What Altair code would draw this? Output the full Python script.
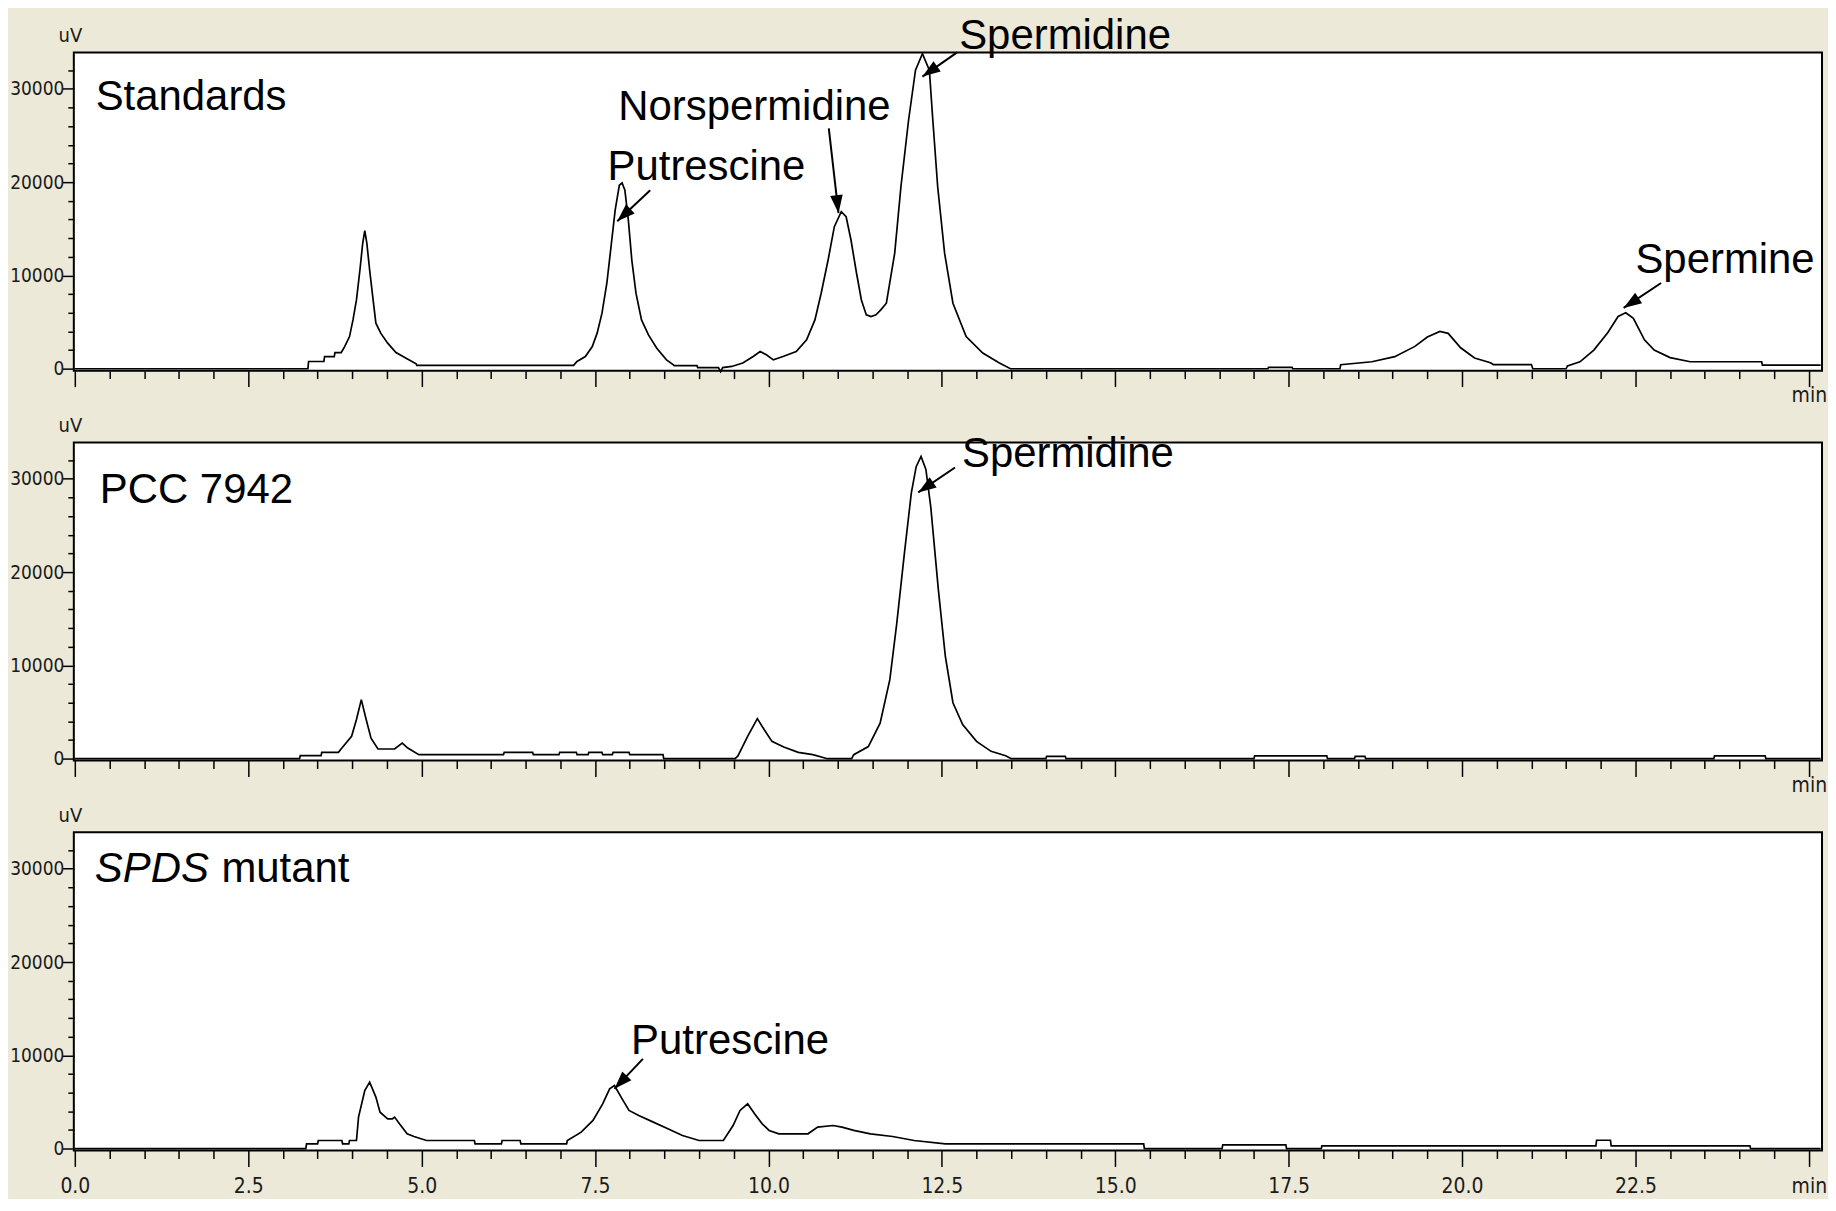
import math
import altair as alt
import pandas as pd

# ---------------- chromatogram traces (retention time [min], response [uV]) ----------------
std_time = [0.00, 3.36, 3.37, 3.59, 3.60, 3.74, 3.75, 3.84, 3.89, 3.96, 4.01, 4.06, 4.11, 4.15, 4.18,
            4.21, 4.25, 4.30, 4.34, 4.41, 4.51, 4.63, 4.77, 4.92, 4.93, 7.19, 7.24, 7.36, 7.46, 7.53,
            7.60, 7.67, 7.73, 7.79, 7.85, 7.89, 7.93, 7.98, 8.03, 8.09, 8.17, 8.27, 8.39, 8.53, 8.63,
            8.64, 8.97, 8.98, 9.28, 9.31, 9.34, 9.47, 9.63, 9.78, 9.88, 9.97, 10.07, 10.21, 10.40,
            10.55, 10.67, 10.76, 10.86, 10.95, 11.05, 11.12, 11.19, 11.27, 11.34, 11.41, 11.48, 11.55,
            11.62, 11.70, 11.82, 11.91, 12.02, 12.12, 12.22, 12.32, 12.37, 12.44, 12.54, 12.66, 12.85,
            13.09, 13.33, 13.49, 17.20, 17.21, 17.55, 17.56, 18.24, 18.25, 18.70, 19.03, 19.32, 19.50,
            19.68, 19.80, 19.98, 20.18, 20.41, 20.45, 21.00, 21.02, 21.50, 21.52, 21.70, 21.90, 22.10,
            22.25, 22.36, 22.47, 22.63, 22.77, 23.00, 23.29, 24.32, 24.33, 25.17]
std_uv = [0, 0, 780, 780, 1310, 1310, 1740, 1740, 2380, 3450, 5240, 7380, 10590, 13440, 14800,
          13440, 10590, 7380, 4890, 3820, 2750, 1740, 1150, 540, 360, 360, 780, 1310, 2380, 3820,
          5960, 9170, 13070, 17000, 19670, 19920, 19140, 15930, 11650, 8100, 5240, 3630, 2200, 960, 430,
          330, 330, 120, 120, -300, 120, 250, 610, 1320, 1850, 1500, 960, 1320, 1850,
          3100, 5240, 8100, 11660, 15230, 16830, 16300, 13800, 10240, 7380, 5780, 5600, 5780,
          6310, 7030, 12380, 19510, 26640, 32000, 33780, 32000, 26640, 19510, 12380, 7030, 3460,
          1680, 610, 0, 0, 150, 150, 0, 0, 430, 750, 1300, 2400, 3400,
          4000, 3800, 2250, 1150, 640, 450, 450, 0, 0, 300, 750, 2000, 3860,
          5600, 6000, 5400, 3100, 2000, 1200, 750, 750, 400, 400]

pcc_time = [0.00, 3.24, 3.25, 3.55, 3.56, 3.80, 3.85, 3.99, 4.06, 4.13, 4.20, 4.27, 4.37, 4.61, 4.72,
            4.80, 4.96, 6.18, 6.19, 6.60, 6.61, 6.98, 6.99, 7.23, 7.24, 7.40, 7.41, 7.60, 7.61, 7.75,
            7.76, 7.99, 8.00, 8.48, 8.49, 9.52, 9.56, 9.70, 9.84, 9.94, 10.05, 10.22, 10.43, 10.64,
            10.85, 11.20, 11.23, 11.44, 11.61, 11.75, 11.85, 11.96, 12.06, 12.13, 12.20, 12.27, 12.34,
            12.45, 12.55, 12.66, 12.80, 13.00, 13.21, 13.42, 13.50, 14.00, 14.01, 14.28, 14.29, 17.00,
            17.01, 18.05, 18.06, 18.45, 18.46, 18.60, 18.61, 23.63, 23.64, 24.37, 24.38, 25.17]
pcc_uv = [0, 0, 320, 320, 680, 680, 1140, 2400, 4200, 6330, 4200, 2200, 1040, 1040, 1680,
          1140, 430, 430, 680, 680, 430, 430, 680, 680, 430, 430, 680, 680, 430, 430,
          680, 680, 430, 430, 0, 0, 300, 2400, 4300, 3100, 1860, 1250, 680, 430,
          0, 0, 430, 1300, 3800, 8470, 14500, 22000, 28500, 31300, 32400, 31000, 27000,
          18100, 11000, 6000, 3650, 1860, 790, 320, 0, 0, 250, 250, 0, 0,
          300, 300, 0, 0, 250, 250, 0, 0, 300, 300, 0, 0]

spds_time = [0.00, 3.33, 3.34, 3.50, 3.51, 3.85, 3.86, 3.95, 3.96, 4.06, 4.09, 4.18, 4.25, 4.34, 4.40,
             4.51, 4.58, 4.61, 4.68, 4.79, 4.89, 5.07, 5.76, 5.77, 6.15, 6.16, 6.42, 6.43, 7.09, 7.10,
             7.30, 7.47, 7.61, 7.71, 7.78, 7.89, 7.99, 8.13, 8.34, 8.55, 8.76, 9.00, 9.35, 9.49, 9.59,
             9.70, 9.80, 9.91, 10.01, 10.15, 10.57, 10.71, 10.93, 11.06, 11.23, 11.47, 11.79, 12.10,
             12.55, 15.41, 15.42, 16.54, 16.55, 17.46, 17.47, 17.97, 17.98, 21.93, 21.94, 22.14, 22.15,
             24.15, 24.16, 25.17]
spds_uv = [0, 0, 520, 520, 870, 870, 520, 520, 870, 870, 3380, 6230, 7130, 5520, 3910,
           3200, 3200, 3380, 2660, 1590, 1300, 870, 870, 520, 520, 870, 870, 520, 520, 870,
           1770, 3020, 4800, 6410, 6770, 5340, 4090, 3560, 2840, 2120, 1410, 870, 870, 2480, 4090,
           4800, 3730, 2660, 1950, 1590, 1590, 2300, 2480, 2300, 1950, 1590, 1300, 870,
           520, 520, 0, 0, 400, 400, 0, 0, 300, 300, 900, 900, 300,
           300, 0, 0]

# ---------------- annotations (label, time, response, style) ----------------
std_labels = [("Standards", 0.30, 27690, "normal"),
              ("Putrescine", 7.68, 20200, "normal"),
              ("Norspermidine", 7.835, 26620, "normal"),
              ("Spermidine", 12.75, 34310, "normal"),
              ("Spermine", 22.50, 10260, "normal")]
pcc_labels = [("PCC 7942", 0.36, 27370, "normal"),
              ("Spermidine", 12.79, 31320, "normal")]
spds_labels = [("SPDS", 0.288, 28540, "italic"),
               ("mutant", 2.113, 28540, "normal"),
               ("Putrescine", 8.02, 10160, "normal")]

# arrows: (from time, from response, to time, to response)
std_arrows = [(8.295, 19135, 7.82, 15820),
              (10.87, 25760, 11.01, 16680),
              (12.72, 33920, 12.22, 31320),
              (22.87, 9190, 22.33, 6520)]
pcc_arrows = [(12.69, 31210, 12.16, 28540)]
spds_arrows = [(8.19, 9620, 7.78, 6410)]

X_TICKS = [0.0, 0.5, 1.0, 1.5, 2.0, 2.5, 3.0, 3.5, 4.0, 4.5, 5.0, 5.5, 6.0, 6.5, 7.0, 7.5, 8.0, 8.5,
           9.0, 9.5, 10.0, 10.5, 11.0, 11.5, 12.0, 12.5, 13.0, 13.5, 14.0, 14.5, 15.0, 15.5, 16.0,
           16.5, 17.0, 17.5, 18.0, 18.5, 19.0, 19.5, 20.0, 20.5, 21.0, 21.5, 22.0, 22.5, 23.0, 23.5,
           24.0, 24.5, 25.0]
Y_TICKS = [0, 2000, 4000, 6000, 8000, 10000, 12000, 14000, 16000, 18000, 20000, 22000, 24000,
           26000, 28000, 30000, 32000]

X_DOMAIN = [-0.015, 25.19]
Y_DOMAIN = [-200, 33900]
W, H = 1753, 319

NARROW = "Liberation Sans Narrow, DejaVu Sans Condensed, sans-serif"
SANS = "Liberation Sans, Arial, sans-serif"
INK = "#1a1a1a"


def arrow_angle(t1, v1, t2, v2):
    px_x = W / (X_DOMAIN[1] - X_DOMAIN[0])
    px_y = H / (Y_DOMAIN[1] - Y_DOMAIN[0])
    dx = (t2 - t1) * px_x
    dy = -(v2 - v1) * px_y
    return (math.degrees(math.atan2(dx, -dy)) + 360) % 360


def panel(times, values, labels, arrows, bottom):
    trace = pd.DataFrame({"t": times, "v": values})
    ann = pd.DataFrame(labels, columns=["label", "t", "v", "style"])
    arr = pd.DataFrame(arrows, columns=["t1", "v1", "t2", "v2"])
    arr["ang"] = [arrow_angle(*r) for r in arrows]

    xs = alt.Scale(domain=X_DOMAIN, nice=False, zero=False)
    ys = alt.Scale(domain=Y_DOMAIN, nice=False, zero=False)

    if bottom:
        xlab = "datum.value === 25 ? 'min' : (datum.value % 2.5 === 0 ? format(datum.value, '.1f') : '')"
    else:
        xlab = "datum.value === 25 ? 'min' : ''"

    x_axis = alt.Axis(values=X_TICKS, title=None, domain=False, grid=False,
                      tickColor="black", tickWidth=1.5,
                      tickSize={"condition": {"test": "datum.value % 2.5 === 0", "value": 16}, "value": 8},
                      labelExpr=xlab, labelFont=NARROW, labelFontSize=21, labelColor=INK,
                      labelPadding=9 if bottom else -2, labelOverlap=False, labelFlush=False,
                      labelBaseline="top", labelAlign="center")
    y_axis = alt.Axis(values=Y_TICKS, domain=False, grid=False, tickColor="black", tickWidth=1.5,
                      tickSize={"condition": {"test": "datum.value % 10000 === 0", "value": 12}, "value": 6},
                      labelExpr="datum.value % 10000 === 0 ? format(datum.value, 'd') : ''",
                      labelFont=NARROW, labelFontSize=19, labelColor=INK, labelPadding=-2,
                      labelOverlap=False, labelFlush=False, labelAlign="right", labelBaseline="middle",
                      title="uV", titleAngle=0, titleX=-4, titleY=-17, titleAlign="center",
                      titleBaseline="middle", titleFont=NARROW, titleFontSize=20,
                      titleFontWeight="normal", titleColor=INK)

    def X(field):
        return alt.X(field, type="quantitative", scale=xs, axis=x_axis)

    def Y(field):
        return alt.Y(field, type="quantitative", scale=ys, axis=y_axis)

    line = alt.Chart(trace).mark_line(color="black", strokeWidth=1.7).encode(x=X("t"), y=Y("v"))
    rules = alt.Chart(arr).mark_rule(color="black", strokeWidth=2).encode(
        x=X("t1"), y=Y("v1"), x2="t2:Q", y2="v2:Q")
    heads = alt.Chart(arr).mark_point(shape="M0,0L0.7,2L-0.7,2Z", size=324, filled=True,
                                      color="black", opacity=1, strokeWidth=0).encode(
        x=X("t2"), y=Y("v2"), angle=alt.Angle("ang:Q", scale=None))
    txt_normal = alt.Chart(ann).transform_filter("datum.style === 'normal'").mark_text(
        align="left", baseline="alphabetic", font=SANS, fontSize=42, color="black").encode(
        x=X("t"), y=Y("v"), text="label:N")
    txt_italic = alt.Chart(ann).transform_filter("datum.style === 'italic'").mark_text(
        align="left", baseline="alphabetic", font=SANS, fontSize=42, fontStyle="italic",
        color="black").encode(x=X("t"), y=Y("v"), text="label:N")

    return alt.layer(line, rules, heads, txt_normal, txt_italic).properties(width=W, height=H)


p1 = panel(std_time, std_uv, std_labels, std_arrows, False)
p2 = panel(pcc_time, pcc_uv, pcc_labels, pcc_arrows, False)
p3 = panel(spds_time, spds_uv, spds_labels, spds_arrows, True)

chart = (
    alt.vconcat(p1, p2, p3, spacing=72, bounds="flush")
    .properties(padding={"left": 0, "top": 4, "right": 0, "bottom": 0})
    .configure(background="#ECE9D8")
    .configure_view(fill="white", stroke="black", strokeWidth=2)
)

chart.save("out.html", embed_options={"renderer": "svg", "actions": False})
